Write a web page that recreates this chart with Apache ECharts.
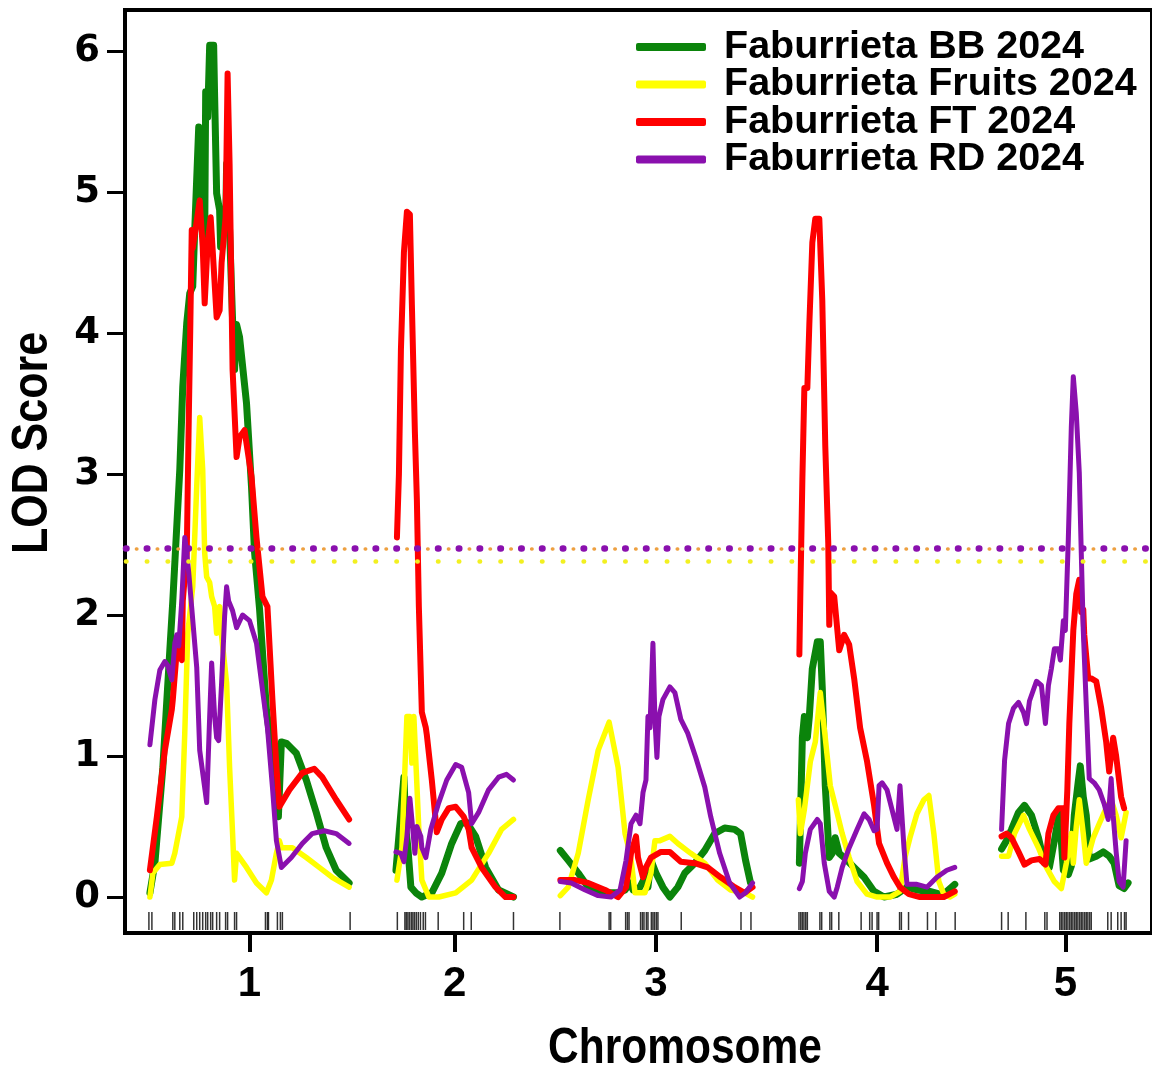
<!DOCTYPE html>
<html>
<head>
<meta charset="utf-8">
<script src="https://cdn.jsdelivr.net/npm/echarts@6/dist/echarts.min.js"></script>
<style>
html, body { margin: 0; padding: 0; background: #fff; }
#lod-chart { width: 1152px; height: 1068px; }
</style>
</head>
<body>
<div id="lod-chart"></div>
<script>
// chromosome layout (cM)
var chrNames = ['1', '2', '3', '4', '5'];
var chrLen = [102, 60, 98, 80, 65];
var chrGap = 22;

var traitNames = ['Faburrieta BB 2024', 'Faburrieta Fruits 2024', 'Faburrieta FT 2024', 'Faburrieta RD 2024'];
var thresholds = [2.47, 2.38, 2.47, 2.47];

// marker positions per chromosome (cM)
var markers = [
	[0.5, 2, 12.5, 13.5, 16, 17.5, 23, 24.5, 26, 27.5, 29, 30, 31.5, 32.5, 34.5, 36, 39, 40, 43.5, 44.5, 59, 60, 60.5, 65, 66.5, 67.5, 101.5],
	[1.2, 5, 5.7, 6.5, 7.3, 8.2, 9, 9.8, 10.7, 11.7, 12.8, 14.2, 15.3, 21.7, 34.5, 38.3, 59.5],
	[0.8, 25.5, 26.3, 33.8, 34.7, 35.5, 41.3, 42.2, 43, 44.2, 45, 46.7, 47.5, 48.3, 49.2, 50, 61.7, 91.7, 96.7],
	[0.8, 1.7, 2.5, 3.3, 4.2, 5, 11.3, 12.2, 16.3, 17.2, 20.8, 32, 36.3, 37.5, 40, 40.8, 51.3, 52.2, 55.8, 65.3, 69.5, 79.2],
	[0.5, 3.8, 12.7, 22.2, 23.3, 29.7, 30.5, 31.3, 32.2, 33, 33.8, 34.7, 35.5, 36.3, 37.2, 38, 38.8, 39.7, 40.5, 41.3, 42.2, 43, 43.8, 44.7, 45.5, 53.8, 55.5, 58.8, 60.5, 62.2, 63]
];

// LOD profiles: [cM, LOD] per chromosome
var lodBB = [
	[[1,0.03],[3.5,0.24],[7.5,0.92],[11,1.75],[12.5,2.1],[16,3.03],[17.5,3.62],[19.5,4.07],[21,4.28],[22.5,4.33],[23.5,4.73],[25.5,5.46],[27,5.16],[28.5,4.66],[29,5.71],[30,5.53],[31,6.04],[33,6.04],[33.5,5.67],[34.5,4.99],[36,4.87],[36.5,4.61],[37.5,4.82],[39,4.73],[39.5,5.2],[41,4.73],[42.5,4.09],[43.5,3.74],[44.5,4.06],[46,3.97],[49.5,3.5],[52,2.91],[53.5,2.45],[56,2.05],[59.5,1.33],[62,1.04],[64.5,0.78],[65.5,0.57],[67,1.1],[69.5,1.09],[74.5,1.02],[79.5,0.83],[84.5,0.6],[89.5,0.35],[94.5,0.19],[101,0.1]],
	[[0.5,0.19],[3,0.6],[4.5,0.85],[5.5,0.48],[6.5,0.35],[8,0.07],[10.5,0.03],[13.5,0],[18.5,0.03],[23.5,0.17],[28.5,0.38],[33,0.52],[36,0.53],[40.5,0.43],[45.5,0.21],[52,0.05],[59.5,0]],
	[[1,0.33],[5,0.26],[10,0.17],[15,0.07],[23.5,0.03],[30,0.03],[33.5,0.05],[36,0.1],[37.5,0.05],[41,0.07],[43.5,0.14],[45,0.07],[46.5,0.26],[49,0.17],[52.5,0.07],[56,0],[60,0.07],[63.5,0.17],[68.5,0.24],[73.5,0.33],[78.5,0.45],[83.5,0.49],[88.5,0.48],[91.5,0.45],[94,0.26],[96.5,0.1]],
	[[1,0.24],[2.5,1.13],[3.5,1.28],[5,1.13],[6,1.28],[7.5,1.62],[10,1.81],[11.5,1.81],[12.5,1.48],[14,0.79],[16,0.28],[17.5,0.31],[19,0.42],[21,0.31],[23.5,0.28],[28.5,0.21],[33.5,0.14],[38.5,0.04],[43.5,0],[50,0.02],[55,0.07],[60,0.05],[66.5,0.04],[71.5,0.02],[75,0.04],[79,0.09]],
	[[0.5,0.34],[3,0.4],[5.5,0.48],[9,0.6],[12,0.65],[15.5,0.58],[19,0.42],[22,0.24],[24.5,0.21],[27,0.4],[29.5,0.6],[31.5,0.19],[34,0.16],[35.5,0.22],[37,0.58],[39,0.82],[40,0.93],[41.5,0.71],[43,0.58],[44.5,0.27],[48,0.29],[51.5,0.32],[54.5,0.29],[57,0.24],[59.5,0.08],[62,0.06],[64,0.1]]
];
var lodFruits = [
	[[1,0],[2.5,0.17],[6,0.23],[12,0.24],[13.5,0.31],[17,0.57],[18.5,1.16],[20,1.87],[22.5,2.2],[24.5,2.91],[26,3.4],[27.5,3.03],[28.5,2.44],[29.5,2.27],[31,2.23],[32,2.13],[33.5,2.06],[34.5,1.87],[35,2.01],[36,2.06],[37,1.85],[39.5,1.52],[41,0.92],[42.5,0.45],[43.5,0.12],[44.5,0.31],[49.5,0.21],[54.5,0.1],[59.5,0.03],[62,0.12],[64.5,0.31],[66,0.4],[67,0.35],[72.5,0.35],[79.5,0.28],[86,0.21],[92.5,0.14],[101,0.07]],
	[[1,0.12],[3.5,0.35],[6,1.28],[7.5,1.28],[8.5,0.95],[9.5,1.28],[10.5,1.28],[12,0.48],[13.5,0.12],[17,0],[22,0],[30.5,0.03],[38.5,0.12],[47,0.31],[53.5,0.48],[59.5,0.55]],
	[[1,0.01],[5,0.07],[10,0.31],[15,0.69],[20,1.04],[25.5,1.24],[30,0.92],[33.5,0.45],[36,0.31],[37,0.21],[38.5,0.03],[43.5,0.03],[46.5,0.17],[48.5,0.4],[51,0.4],[56,0.43],[60,0.38],[66.5,0.31],[73.5,0.24],[80,0.12],[86.5,0.05],[93.5,0.03],[97.5,0]],
	[[0.5,0.69],[1.5,0.45],[3.5,0.62],[6.5,0.96],[9,1.1],[11.5,1.45],[12.5,1.45],[14,1.13],[16.5,0.79],[19,0.65],[22.5,0.45],[26,0.28],[30,0.11],[35,0.02],[40,0],[46.5,0],[51.5,0.04],[54,0.28],[56.5,0.42],[60,0.59],[63.5,0.69],[66,0.72],[68.5,0.45],[71,0.11],[73.5,0.02],[76.5,0],[79,0.02]],
	[[0.5,0.29],[4,0.29],[7,0.45],[11.5,0.58],[14.5,0.48],[19,0.35],[23,0.21],[27,0.11],[30.5,0.06],[33,0.24],[35.5,0.45],[36.5,0.24],[38,0.5],[39.5,0.69],[41.5,0.45],[43,0.24],[46.5,0.42],[49.5,0.52],[53,0.63],[55.5,0.69],[58,0.58],[60.5,0.42],[63,0.6]]
];
var lodFT = [
	[[1,0.19],[4.5,0.57],[8.5,1.04],[12,1.33],[12.5,1.4],[14.5,1.75],[16,1.72],[17,1.68],[17.5,2.1],[19.5,2.44],[20.5,3.38],[21.25,4.02],[22,4.73],[22.5,4.6],[26,4.94],[27.5,4.61],[28.5,4.21],[30,4.64],[31.5,4.82],[32.5,4.59],[34.5,4.11],[36,4.16],[37,4.5],[39,4.82],[40,5.84],[41,5.2],[42.5,3.74],[44.5,3.12],[46,3.26],[48.5,3.31],[52,2.98],[54.5,2.55],[57.5,2.13],[60,2.06],[62.5,1.4],[64.5,0.92],[66,0.64],[71,0.76],[77.5,0.88],[83.5,0.91],[87.5,0.85],[94.5,0.69],[101,0.55]],
	[[1,2.55],[2,3.0],[3,3.88],[4.5,4.57],[6,4.86],[7.5,4.84],[8.5,4.2],[10,3.3],[11,2.82],[12,2.06],[13.5,1.31],[15.5,1.2],[16,1.15],[18.5,0.83],[21,0.46],[23.5,0.55],[27,0.63],[30.5,0.64],[34.5,0.57],[37,0.48],[38.5,0.35],[43.5,0.21],[50.5,0.07],[55.5,0],[59.5,0]],
	[[1,0.12],[8.5,0.12],[15,0.1],[23.5,0.05],[30,0],[34,0.07],[36.5,0.31],[39,0.43],[40,0.28],[42.5,0.14],[44,0.21],[46.5,0.28],[51.5,0.32],[56,0.32],[61.5,0.25],[68.5,0.24],[75,0.21],[81.5,0.14],[88.5,0.07],[93.5,0.03],[97.5,0.07]],
	[[1,1.72],[1.5,2.16],[2.5,2.96],[3.5,3.61],[5,3.61],[6,4.06],[7.5,4.64],[9,4.81],[11,4.81],[12.5,4.23],[14,3.2],[15.5,2.51],[16,1.93],[16.5,2.16],[18.5,2.13],[21,1.75],[23.5,1.86],[26,1.79],[28.5,1.55],[31.5,1.2],[35,0.96],[38.5,0.65],[41,0.38],[45,0.24],[48.5,0.14],[51.5,0.07],[56,0.02],[61.5,0],[68.5,0],[73.5,0],[79,0.04]],
	[[0.5,0.43],[3,0.45],[5.5,0.42],[9,0.32],[12,0.23],[15.5,0.26],[19.5,0.27],[22.5,0.23],[24,0.45],[26.5,0.58],[29,0.63],[31.5,0.63],[32,0.28],[33.5,0.76],[34.5,1.23],[36.5,1.89],[38,2.15],[39.5,2.25],[40.5,2.02],[41.5,2.04],[42,1.86],[44,1.55],[45.5,1.55],[48,1.53],[50.5,1.34],[53,1.1],[54.5,0.89],[56.5,1.13],[58,1.0],[60.5,0.71],[62,0.63]]
];
var lodRD = [
	[[1,1.08],[3.5,1.4],[6,1.61],[8.5,1.67],[10,1.64],[12,1.54],[13.5,1.8],[14.5,1.86],[15.5,1.78],[17,2.1],[18.5,2.55],[19.5,2.44],[20.5,2.3],[22,2.05],[24.5,1.63],[26,1.04],[29.5,0.67],[31,1.28],[32,1.66],[33.5,1.28],[34.5,1.13],[35.5,1.11],[37,1.52],[38.5,1.99],[39.5,2.2],[40.5,2.1],[42.5,2.03],[44.5,1.91],[47.5,2.0],[51,1.96],[54.5,1.8],[57.5,1.47],[60,1.2],[62.5,0.78],[64.5,0.4],[67,0.21],[72,0.28],[77.5,0.38],[82.5,0.45],[88.5,0.47],[94.5,0.45],[101,0.38]],
	[[0.5,0.32],[3,0.31],[4.5,0.25],[6,0.43],[7.5,0.7],[8.5,0.55],[10,0.31],[11,0.5],[13,0.43],[13.5,0.35],[15.5,0.28],[18,0.48],[22,0.67],[26,0.83],[30.5,0.94],[33.5,0.92],[37,0.74],[38.5,0.52],[42,0.6],[47,0.76],[52,0.85],[56,0.87],[59.5,0.83]],
	[[1,0.11],[6.5,0.1],[13.5,0.05],[20,0.01],[26.5,0],[31,0.05],[34,0.26],[36.5,0.52],[39,0.58],[41,0.52],[42.5,0.74],[44,0.83],[45,1.28],[46,1.2],[47.5,1.8],[48.5,1.26],[49.5,0.99],[50.5,1.28],[52.5,1.4],[56,1.49],[58.5,1.45],[61.5,1.26],[65,1.16],[69,0.99],[73.5,0.78],[76.5,0.57],[81,0.31],[86,0.1],[91,0],[94,0.03],[97.5,0.1]],
	[[1,0.06],[2.5,0.11],[4,0.31],[6.5,0.48],[10,0.55],[11.5,0.52],[13.5,0.24],[16,0.04],[18.5,0],[20,0.07],[22.5,0.21],[26,0.35],[30,0.48],[33.5,0.59],[36,0.55],[38.5,0.47],[40,0.48],[41,0.79],[42.5,0.81],[45,0.76],[47.5,0.62],[50,0.48],[51.5,0.79],[52.5,0.79],[53.5,0.35],[55,0.09],[60,0.09],[65,0.07],[70,0.14],[75,0.19],[79,0.21]],
	[[0.5,0.48],[2,0.97],[4,1.23],[6.5,1.34],[9,1.38],[11.5,1.31],[13,1.23],[14.5,1.39],[18,1.53],[20.5,1.5],[22.5,1.23],[24,1.5],[25.5,1.62],[27,1.76],[29,1.76],[30,1.68],[31.5,1.96],[32.5,1.89],[34,2.54],[35.5,3.33],[36.5,3.69],[38,3.43],[39.5,3.01],[40.5,2.44],[41.5,1.89],[43,1.36],[44.5,0.84],[47,0.81],[49.5,0.76],[52,0.66],[54,0.55],[55.5,0.84],[56.5,0.58],[58,0.32],[59.5,0.11],[61.5,0.07],[63,0.4]]
];

var traitColors = ['#0b840b', '#ffff00', '#ff0000', '#8a10ae'];
var traitWidths = [7, 5.5, 6, 5];

var boldFont = "'Liberation Sans', Arial, sans-serif";

//**********************************************************************
var myChart = echarts.init(document.getElementById('lod-chart'));

var offsets = [];
var start = 0;
for (var i = 0; i < chrLen.length; i++) {
	offsets.push(start);
	start += chrLen[i] + chrGap;
}
var mids = chrLen.map(function (len, i) { return offsets[i] + len / 2; });

function genomeLine(lod) {
	var out = [];
	lod.forEach(function (chr, i) {
		if (i > 0) {
			out.push([offsets[i] - chrGap / 2, '-']);
		}
		chr.forEach(function (p) {
			out.push([offsets[i] + p[0], p[1]]);
		});
	});
	return out;
}

var rug = [];
markers.forEach(function (chr, i) {
	chr.forEach(function (m) {
		rug.push([offsets[i] + m, -0.17]);
	});
});

var profiles = [lodBB, lodFruits, lodFT, lodRD];
var series = profiles.map(function (lod, k) {
	return {
		name: traitNames[k],
		type: 'line',
		data: genomeLine(lod),
		symbol: 'none',
		connectNulls: false,
		silent: true,
		itemStyle: { color: traitColors[k] },
		lineStyle: { color: traitColors[k], width: traitWidths[k], cap: 'round', join: 'round' }
	};
});

series.push({
	name: 'markers',
	type: 'scatter',
	data: rug,
	symbol: 'rect',
	symbolSize: [1.5, 18],
	silent: true,
	itemStyle: { color: '#000' }
});

// significance thresholds (dotted)
series.push({
	name: 'thresholds',
	type: 'line',
	data: [],
	z: 5,
	markLine: {
		silent: true,
		symbol: 'none',
		label: { show: false },
		data: [
			{ yAxis: thresholds[1], lineStyle: { color: '#f2f020', width: 4.5, type: [0.5, 20.3], dashOffset: -1, cap: 'round' } },
			{ yAxis: thresholds[0], lineStyle: { color: traitColors[0], width: 4, type: [0.5, 20.3], dashOffset: -1, cap: 'round' } },
			{ yAxis: thresholds[2], lineStyle: { color: '#eea040', width: 3.5, type: [0.5, 20.3], dashOffset: -11.4, cap: 'round' } },
			{ yAxis: thresholds[3], lineStyle: { color: traitColors[3], width: 6.5, type: [0.5, 20.3], dashOffset: -1, cap: 'round' } }
		]
	}
});

var option = {
	animation: false,
	backgroundColor: '#fff',
	grid: {
		left: 125,
		right: -4,
		top: 10,
		bottom: 135,
		show: true,
		borderColor: '#000',
		borderWidth: 4
	},
	legend: {
		data: traitNames.map(function (n) { return { name: n, icon: 'roundRect' }; }),
		orient: 'vertical',
		left: 631,
		top: 22,
		itemGap: -2.5,
		itemWidth: 70,
		itemHeight: 8,
		selectedMode: false,
		textStyle: {
			color: '#000',
			fontFamily: boldFont,
			fontWeight: 'bold',
			fontSize: 39.5,
			lineHeight: 37,
			padding: [0, 0, 0, 13]
		}
	},
	xAxis: {
		type: 'value',
		min: -11.5,
		max: 504,
		axisLine: { show: false, onZero: false },
		splitLine: { show: false },
		axisTick: {
			show: true,
			inside: false,
			length: 19,
			customValues: mids,
			lineStyle: { color: '#000', width: 4 }
		},
		axisLabel: {
			customValues: mids,
			margin: 30,
			color: '#000',
			fontFamily: boldFont,
			fontWeight: 'bold',
			fontSize: 42,
			formatter: function (v) {
				var idx = mids.indexOf(v);
				return idx >= 0 ? chrNames[idx] : '';
			}
		}
	},
	yAxis: {
		type: 'value',
		min: -0.255,
		max: 6.29,
		axisLine: { show: false, onZero: false },
		splitLine: { show: false },
		axisTick: {
			show: true,
			inside: false,
			length: 18,
			customValues: [0, 1, 2, 3, 4, 5, 6],
			lineStyle: { color: '#000', width: 3 }
		},
		axisLabel: {
			customValues: [0, 1, 2, 3, 4, 5, 6],
			margin: 25,
			color: '#000',
			fontFamily: "'DejaVu Sans', sans-serif",
			fontWeight: 'bold',
			fontSize: 37
		}
	},
	graphic: [
		{
			type: 'text',
			x: 685,
			y: 1049,
			scaleX: 0.85,
			style: {
				text: 'Chromosome',
				fill: '#000',
				font: 'bold 50px ' + boldFont,
				textAlign: 'center',
				textVerticalAlign: 'middle'
			}
		},
		{
			type: 'text',
			x: 33,
			y: 443,
			rotation: Math.PI / 2,
			scaleX: 0.86,
			style: {
				text: 'LOD Score',
				fill: '#000',
				font: 'bold 50px ' + boldFont,
				textAlign: 'center',
				textVerticalAlign: 'middle'
			}
		}
	],
	series: series
};

myChart.setOption(option);
</script>
</body>
</html>
